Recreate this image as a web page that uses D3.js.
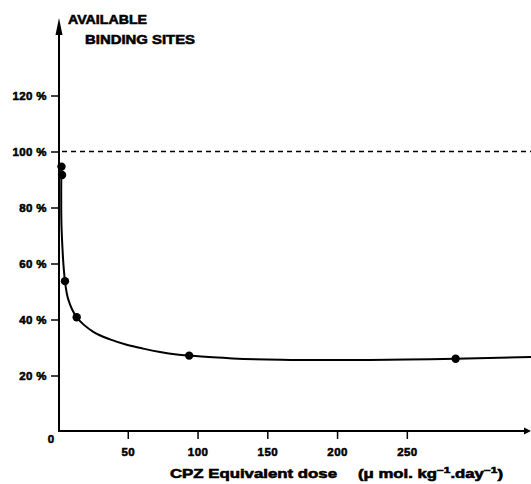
<!DOCTYPE html>
<html>
<head>
<meta charset="utf-8">
<script src="https://cdn.jsdelivr.net/npm/d3@7"></script>
<style>
    body { margin: 0; background: #fff; }
    svg text { font-family: "Liberation Sans", Arial, sans-serif; font-weight: bold; fill: #000; stroke: #000; stroke-width: 0.55px; }
</style>
</head>
<body>
<div id="chart"></div>
<script>

// Measured points (dose, % available binding sites)
var pointDose  = [2.5, 2.9, 5, 13.4, 94, 285];
var pointSites = [94.6, 91.6, 53.7, 40.8, 27.1, 26];

// Hand fitted curve
var fitDose  = [2.5, 2.3, 2.6, 5, 7.4, 13.4, 25.3, 37.3, 49.2, 61.1, 73.1, 85.1, 94, 125, 160, 200, 250, 285, 339];
var fitSites = [94.6, 85, 72, 53.7, 47.1, 40.8, 35.6, 32.9, 31.0, 29.6, 28.4, 27.5, 27.1, 26.1, 25.6, 25.5, 25.7, 26, 26.6];

var xTicks = [50, 100, 150, 200, 250];
var yTicks = [20, 40, 60, 80, 100, 120];
var refLine = 100;

var settings = {
    width : 531,//px
    height : 484,//px
    axisX : 59,//px
    axisY : 431,//px
    lineWidth : 2,
    dotRadius : 4.2
};

var svg = d3.select("#chart").append("svg")
    .attr("width", settings.width)
    .attr("height", settings.height);

var x = d3.scaleLinear().domain([0, 339]).range([58, 531]);
var y = d3.scaleLinear().domain([0, 120]).range([431.5, 95.5]);

// dashed 100% line
svg.append("line")
    .attr("x1", settings.axisX + 3).attr("x2", settings.width)
    .attr("y1", y(refLine)).attr("y2", y(refLine))
    .attr("stroke", "#000").attr("stroke-width", 1.5)
    .attr("stroke-dasharray", "5,4");

// y axis ticks + labels
var yAxis = svg.append("g")
    .attr("transform", "translate(" + settings.axisX + ",0)")
    .call(d3.axisLeft(y).tickValues(yTicks).tickSize(8).tickPadding(4)
        .tickFormat(function(d){ return d + " %"; }));
yAxis.select(".domain").remove();
yAxis.selectAll(".tick line").attr("stroke-width", 1.5);
yAxis.selectAll(".tick text").attr("font-size", 11.5).attr("letter-spacing", 0.4);

// x axis ticks + labels
var xAxis = svg.append("g")
    .attr("transform", "translate(0," + settings.axisY + ")")
    .call(d3.axisBottom(x).tickValues(xTicks).tickSize(8).tickPadding(9));
xAxis.select(".domain").remove();
xAxis.selectAll(".tick line").attr("stroke-width", 1.5);
xAxis.selectAll(".tick text").attr("font-size", 11.5).attr("letter-spacing", 0.4);

// axis lines with arrow heads
svg.append("line")
    .attr("x1", settings.axisX).attr("x2", settings.axisX)
    .attr("y1", settings.axisY + 1).attr("y2", 30)
    .attr("stroke", "#000").attr("stroke-width", settings.lineWidth);
svg.append("path")
    .attr("d", "M" + settings.axisX + ",18 L" + (settings.axisX - 3.5) + ",35 L" + (settings.axisX + 3.5) + ",35 Z")
    .attr("fill", "#000");

svg.append("line")
    .attr("x1", settings.axisX - 1).attr("x2", settings.width - 4)
    .attr("y1", settings.axisY).attr("y2", settings.axisY)
    .attr("stroke", "#000").attr("stroke-width", settings.lineWidth);
svg.append("path")
    .attr("d", "M" + settings.width + "," + settings.axisY + " L" + (settings.width - 7) + "," + (settings.axisY - 3.5) +
        " L" + (settings.width - 7) + "," + (settings.axisY + 3.5) + " Z")
    .attr("fill", "#000");

// origin label
svg.append("text")
    .attr("x", 51).attr("y", 443)
    .attr("text-anchor", "middle")
    .attr("font-size", 11.5)
    .text("0");

// fitted curve
var fit = fitDose.map(function(d, i){ return [d, fitSites[i]]; });
var line = d3.line()
    .x(function(d){ return x(d[0]); })
    .y(function(d){ return y(d[1]); })
    .curve(d3.curveCatmullRom.alpha(0.5));

svg.append("path")
    .datum(fit)
    .attr("d", line)
    .attr("fill", "none")
    .attr("stroke", "#000")
    .attr("stroke-width", settings.lineWidth);

// points
svg.selectAll("circle.pt")
    .data(pointDose)
    .enter().append("circle")
    .attr("class", "pt")
    .attr("cx", function(d){ return x(d); })
    .attr("cy", function(d, i){ return y(pointSites[i]); })
    .attr("r", settings.dotRadius)
    .attr("fill", "#000");

// y axis title
svg.append("text")
    .attr("x", 68).attr("y", 24)
    .attr("font-size", 12.5)
    .attr("textLength", 79).attr("lengthAdjust", "spacingAndGlyphs")
    .text("AVAILABLE");
svg.append("text")
    .attr("x", 85).attr("y", 44)
    .attr("font-size", 12.5)
    .attr("textLength", 110).attr("lengthAdjust", "spacingAndGlyphs")
    .text("BINDING  SITES");

// x axis title
svg.append("text")
    .attr("x", 170).attr("y", 478)
    .attr("font-size", 12)
    .attr("textLength", 167).attr("lengthAdjust", "spacingAndGlyphs")
    .text("CPZ Equivalent dose");

var unit = svg.append("text")
    .attr("x", 358).attr("y", 478)
    .attr("font-size", 12)
    .attr("textLength", 145).attr("lengthAdjust", "spacingAndGlyphs");
unit.append("tspan").text("(\u03bc mol. kg");
unit.append("tspan").attr("dy", -5).attr("font-size", 8.5).text("\u22121");
unit.append("tspan").attr("dy", 5).text(".day");
unit.append("tspan").attr("dy", -5).attr("font-size", 8.5).text("\u22121");
unit.append("tspan").attr("dy", 5).text(")");

</script>
</body>
</html>
